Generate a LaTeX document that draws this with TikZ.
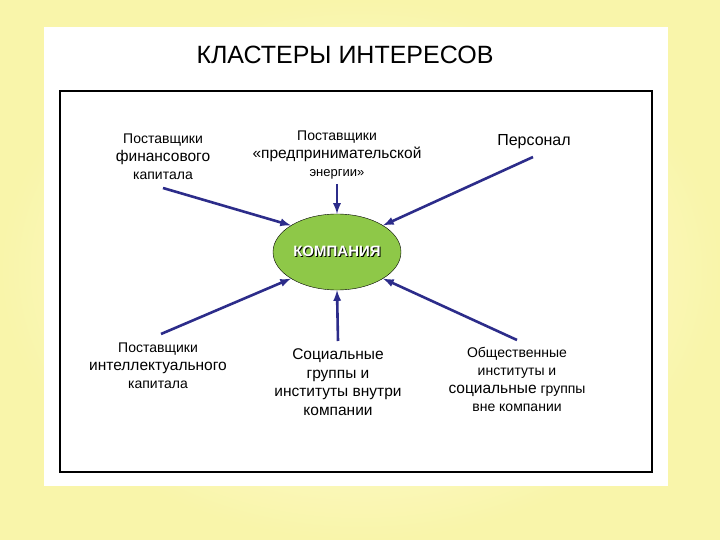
\documentclass[tikz,border=0pt]{standalone}
\usepackage{fontspec}
\setmainfont{Liberation Sans}
\usetikzlibrary{shapes,arrows,positioning}
\definecolor{leaf}{RGB}{142,200,72}
\definecolor{navy}{RGB}{44,44,138}
\definecolor{creamin}{RGB}{255,255,236}
\definecolor{creamout}{RGB}{249,245,170}
\newcommand{\szS}{\fontsize{13}{19}\selectfont}
\newcommand{\szL}{\fontsize{15.5}{19}\selectfont}
\tikzset{label/.style = {align = center, font = \fontsize{14}{18}\selectfont, inner sep = 0pt},
         firm/.style = {draw, ellipse, fill = leaf, minimum width = 128pt, minimum height = 76pt, inner sep = 0pt},
         tail/.style = {coordinate},
         link/.style = {-latex, draw = navy, line width = 2.6pt},
}
\begin{document}
\begin{tikzpicture}[x = 1pt, y = -1pt]

  \useasboundingbox (0,0) rectangle (720,540);
  \shade[inner color = creamin, outer color = creamout] (0,0) rectangle (720,540);
  \fill[white] (44,27) rectangle (668,486);
  \draw[line width = 2pt] (60,91) rectangle (652,472);

  \node[font = \fontsize{25}{28}\selectfont] (title) at (345,55) {КЛАСТЕРЫ ИНТЕРЕСОВ};

  \node[firm] (comp) at (337,252) {\fontsize{15}{16}\selectfont\bfseries
    {\color{black}\rlap{\kern1pt\raisebox{-1pt}{КОМПАНИЯ}}}{\color{white}КОМПАНИЯ}};

  \node[label] (fin) at (163,157) {Поставщики\\{\szL финансового}\\капитала};
  \node[label] (ent) at (337,155) {Поставщики\\{\szL «предпринимательской}\\{\szS энергии»}};
  \node[label, font = \fontsize{16}{19}\selectfont] (pers) at (534,142) {Персонал};
  \node[label] (intel) at (158,366) {Поставщики\\{\szL интеллектуального}\\капитала};
  \node[label, font = \fontsize{15.5}{18.5}\selectfont] (soc) at (338,382) {Социальные\\группы и\\институты внутри\\компании};
  \node[label] (pub) at (517,379) {Общественные\\институты и\\{\szL социальные} группы\\вне компании};

  \coordinate (t1) at (163,188);
  \coordinate (t2) at (337,184);
  \coordinate (t3) at (533,157);
  \coordinate (t4) at (161,334);
  \coordinate (t5) at (338,341);
  \coordinate (t6) at (517,340);

  \draw[link] (t1) -- (comp.150);
  \draw[link] (t2) -- (comp.north);
  \draw[link] (t3) -- (comp.30);
  \draw[link] (t4) -- (comp.210);
  \draw[link] (t5) -- (comp.south);
  \draw[link] (t6) -- (comp.330);

\end{tikzpicture}
\end{document}
